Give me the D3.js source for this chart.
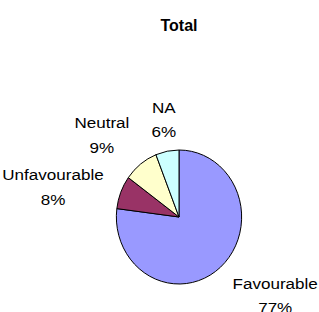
<!DOCTYPE html>
<html>
<head>
<meta charset="utf-8">
<script src="https://cdn.jsdelivr.net/npm/d3@7"></script>
<style>
  html, body { margin: 0; padding: 0; background: #fff; }
  svg { display: block; font-family: "Liberation Sans", Arial, sans-serif; }
</style>
</head>
<body>
<script>
// chart data
const categories = ['Favourable', 'Unfavourable', 'Neutral', 'NA'];
const values = [77, 8, 9, 6];
const colours = ['#9999ff', '#993366', '#ffffcc', '#ccffff'];
const title = 'Total';

const width = 319;
const height = 312;
const cx = 179;
const cy = 217;
const radius = 67;

const svg = d3.select('body').append('svg')
  .attr('width', width)
  .attr('height', height);

svg.append('text')
  .attr('x', cx)
  .attr('y', 31)
  .attr('text-anchor', 'middle')
  .style('font-size', '16px')
  .style('font-weight', 'bold')
  .text(title);

const pie = d3.pie().sort(null).value((d) => d.value);
const arcs = pie(categories.map((c, i) => ({ name: c, value: values[i] })));
const arc = d3.arc().innerRadius(0).outerRadius(radius);

// excel squashes the pie a bit horizontally
const g = svg.append('g')
  .attr('transform', `translate(${cx},${cy}) scale(0.935,1)`);

g.selectAll('path')
  .data(arcs)
  .join('path')
  .attr('d', arc)
  .attr('fill', (d, i) => colours[i])
  .attr('stroke', '#000')
  .attr('stroke-width', 1)
  .attr('vector-effect', 'non-scaling-stroke');

/**
 * Labels: an anchor on a ring of labelRadius, the box is pushed out
 * by up to half its size depending on how steep the angle is
 */
const fontSize = 15.5;
const stretch = 1.1;   // excel text comes out a bit wide
const capHeight = fontSize * 0.716;
const lineGap = 24.5;
const labelRadius = 81;
const push = (s) => Math.sign(s) * Math.min(1, Math.max(0, (Math.abs(s) - 0.4) / 0.2));
const labels = svg.append('g').attr('transform', `translate(${cx},${cy})`);

arcs.forEach((d) => {
  const mid = (d.startAngle + d.endAngle) / 2;
  const sx = Math.sin(mid);
  const sy = -Math.cos(mid);
  const t = labels.append('text')
    .attr('text-anchor', 'middle')
    .style('font-size', fontSize + 'px')
    .attr('fill', '#000');
  t.append('tspan').attr('x', 0).attr('dy', 0).text(d.data.name);
  t.append('tspan').attr('x', 0).attr('dy', lineGap).text(Math.round(d.value) + '%');
  const w = t.node().getBBox().width * stretch;
  const h = lineGap + capHeight;
  const px = labelRadius * sx + push(sx) * w / 2;
  const py = labelRadius * sy + push(sy) * h / 2;
  // first baseline so that the block is centred on (px, py)
  t.attr('transform', `translate(${px},${py - h / 2 + capHeight}) scale(${stretch},1)`);
});
</script>
</body>
</html>
